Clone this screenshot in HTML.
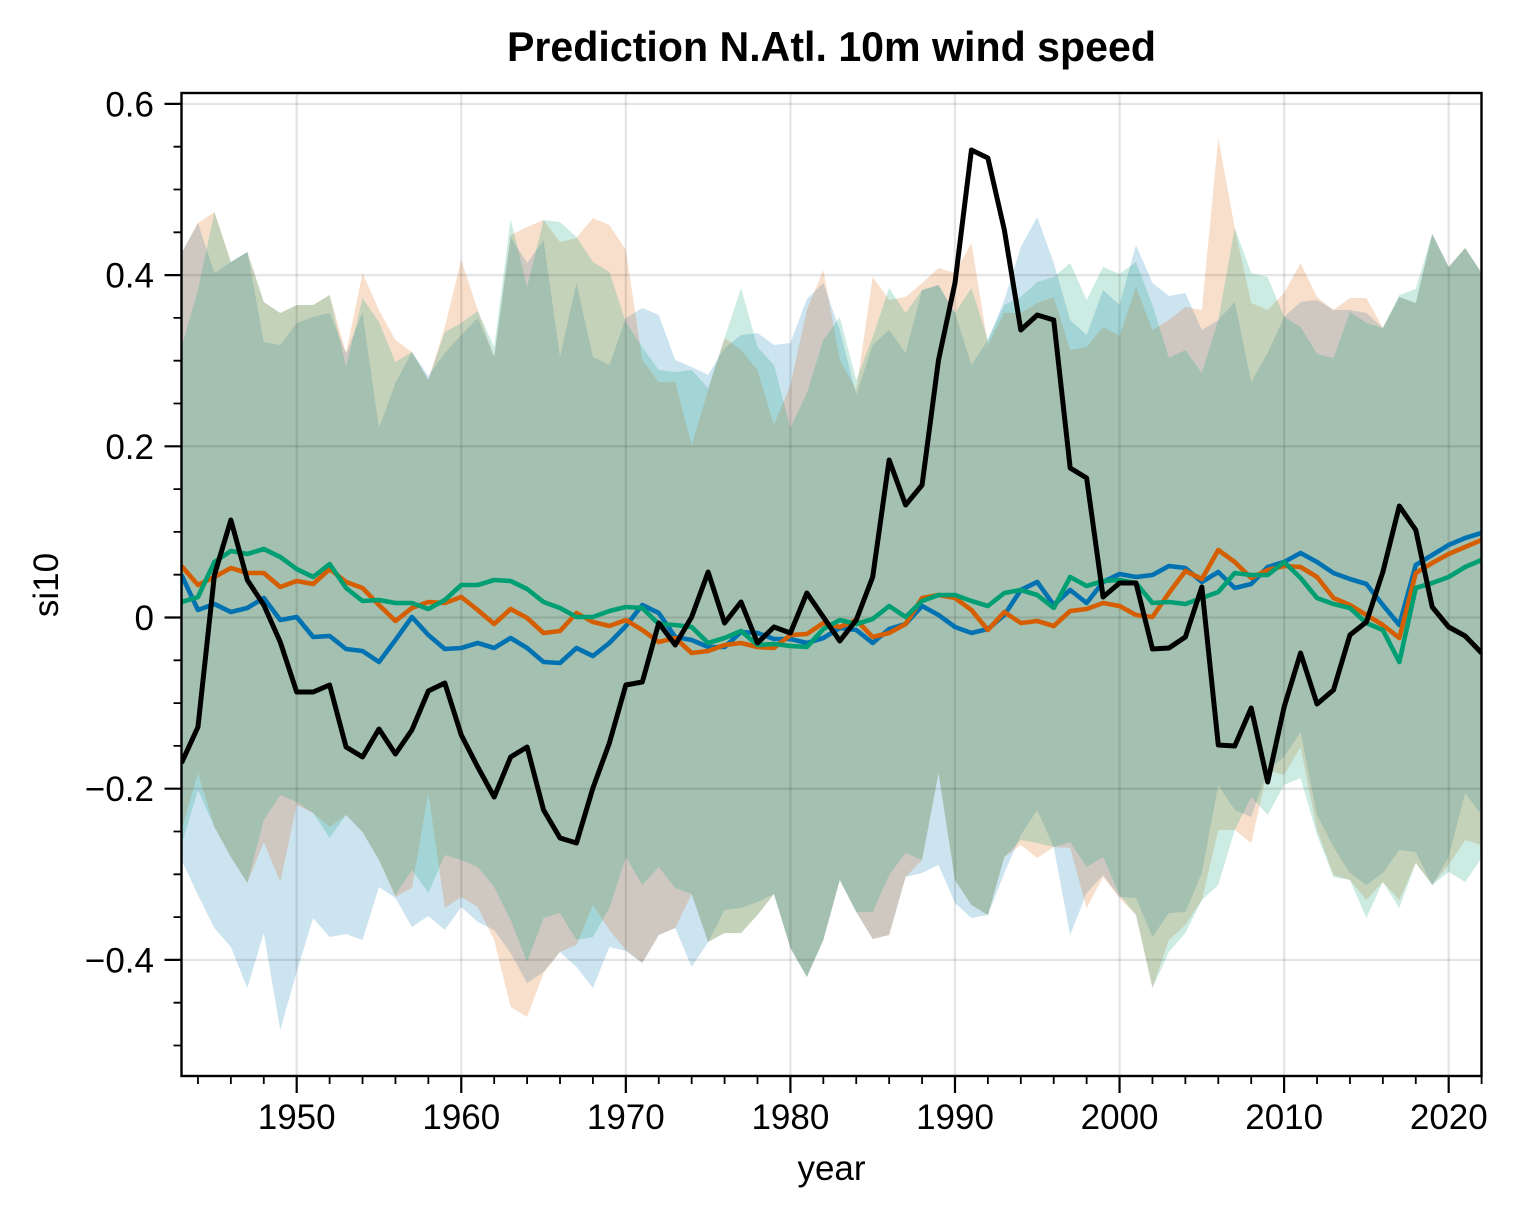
<!DOCTYPE html>
<html>
<head>
<meta charset="utf-8">
<style>
html,body{margin:0;padding:0;background:#fff;}
svg{display:block;}
text{font-family:"Liberation Sans",Arial,Helvetica,sans-serif;fill:#000;}
</style>
</head>
<body>
<svg width="1520" height="1218" viewBox="0 0 1520 1218" xmlns="http://www.w3.org/2000/svg">
<defs>
<clipPath id="ax"><rect x="181.5" y="93" width="1300" height="983"/></clipPath>
</defs>
<rect x="0" y="0" width="1520" height="1218" fill="#fff"/>

<g clip-path="url(#ax)">
<g transform="translate(181.5,0) scale(16.457,1)">
<!-- blue band -->
<polygon fill="#0072B2" fill-opacity="0.2" points="0,253 1,223 2,273 3,262 4,252 5,342 6,345 7,323 8,317 9,313 10,353 11,313 12,428 13,383 14,352 15,376 16,353 17,335 18,318 19,357 20,237 21,263 22,240 23,357 24,283 25,357 26,365 27,318 28,308 29,315 30,360 31,367 32,375 33,348 34,335 35,333 36,345 37,343 38,299 39,283 40,330 41,395 42,345 43,330 44,353 45,290 46,285 47,313 48,365 49,340 50,300 51,247 52,217 53,263 54,320 55,335 56,290 57,305 58,245 59,283 60,296 61,293 62,330 63,320 64,302 65,382 66,353 67,317 68,302 69,300 70,310 71,310 72,313 73,328 74,297 75,303 76,234 77,267 78,248 79,273 79,815 78,793 77,857 76,885 75,852 74,850 73,873 72,885 71,873 70,847 69,815 68,732 67,757 66,770 65,817 64,810 63,785 62,873 61,912 60,913 59,937 58,898 57,897 56,875 55,893 54,935 53,847 52,810 51,835 50,873 49,915 48,918 47,903 46,865 45,873 44,877 43,935 42,939 41,912 40,880 39,940 38,977 37,948 36,894 35,902 34,908 33,910 32,942 31,967 30,928 29,935 28,963 27,951 26,947 25,988 24,967 23,952 22,972 21,983 20,953 19,930 18,922 17,907 16,930 15,916 14,927 13,898 12,887 11,940 10,934 9,937 8,918 7,972 6,1030 5,933 4,988 3,947 2,928 1,895 0,860"/>
<!-- orange band -->
<polygon fill="#D55E00" fill-opacity="0.2" points="0,253 1,223 2,212 3,262 4,252 5,302 6,313 7,305 8,305 9,295 10,353 11,273 12,310 13,340 14,352 15,380 16,327 17,260 18,310 19,357 20,235 21,227 22,220 23,242 24,238 25,218 26,225 27,250 28,360 29,382 30,382 31,445 32,390 33,338 34,350 35,370 36,425 37,385 38,310 39,270 40,360 41,390 42,277 43,300 44,297 45,283 46,268 47,273 48,243 49,345 50,313 51,313 52,303 53,297 54,350 55,347 56,327 57,336 58,287 59,330 60,320 61,307 62,310 63,138 64,228 65,303 66,310 67,293 68,263 69,297 70,310 71,298 72,298 73,328 74,297 75,303 76,234 77,267 78,248 79,273 79,845 78,840 77,865 76,885 75,863 74,900 73,882 72,900 71,880 70,875 69,830 68,747 67,775 66,770 65,843 64,830 63,830 62,900 61,925 60,940 59,988 58,915 57,898 56,877 55,908 54,848 53,847 52,858 51,845 50,857 49,915 48,905 47,880 46,773 45,860 44,877 43,935 42,939 41,912 40,880 39,940 38,977 37,948 36,894 35,915 34,933 33,933 32,942 31,894 30,928 29,935 28,963 27,950 26,930 25,905 24,945 23,952 22,973 21,1017 20,1007 19,940 18,907 17,897 16,908 15,793 14,888 13,897 12,860 11,832 10,815 9,827 8,813 7,805 6,882 5,842 4,883 3,857 2,827 1,773 0,830"/>
<!-- green band -->
<polygon fill="#009E73" fill-opacity="0.2" points="0,347 1,290 2,212 3,262 4,252 5,302 6,313 7,305 8,305 9,295 10,367 11,298 12,322 13,362 14,352 15,380 16,332 17,323 18,311 19,347 20,219 21,287 22,220 23,222 24,237 25,262 26,272 27,322 28,347 29,370 30,372 31,370 32,388 33,338 34,288 35,347 36,365 37,428 38,393 39,340 40,317 41,380 42,337 43,288 44,313 45,290 46,285 47,313 48,288 49,340 50,305 51,297 52,282 53,277 54,263 55,300 56,267 57,274 58,262 59,305 60,358 61,350 62,373 63,320 64,228 65,273 66,277 67,317 68,327 69,354 70,358 71,312 72,323 73,328 74,295 75,289 76,234 77,267 78,248 79,273 79,858 78,882 77,872 76,885 75,863 74,908 73,882 72,918 71,880 70,877 69,835 68,778 67,785 66,815 65,797 64,830 63,885 62,900 61,933 60,952 59,988 58,915 57,895 56,857 55,867 54,842 53,847 52,843 51,840 50,857 49,915 48,905 47,880 46,773 45,860 44,853 43,875 42,912 41,912 40,880 39,940 38,977 37,948 36,894 35,915 34,933 33,933 32,942 31,894 30,888 29,867 28,885 27,857 26,908 25,937 24,940 23,913 22,918 21,962 20,920 19,887 18,867 17,860 16,855 15,893 14,870 13,895 12,860 11,832 10,815 9,838 8,813 7,802 6,795 5,820 4,883 3,857 2,827 1,790 0,845"/>

<!-- vertical grid -->
<path d="M7,93V1076 M17,93V1076 M27,93V1076 M37,93V1076 M47,93V1076 M57,93V1076 M67,93V1076 M77,93V1076" stroke="#000" stroke-opacity="0.1" stroke-width="2.3" vector-effect="non-scaling-stroke" fill="none"/>
</g>
<!-- horizontal grid -->
<path d="M181.5,103.9H1481.5 M181.5,275.1H1481.5 M181.5,446.3H1481.5 M181.5,617.5H1481.5 M181.5,788.7H1481.5 M181.5,959.9H1481.5" stroke="#000" stroke-opacity="0.1" stroke-width="2.3" fill="none"/>

<g transform="translate(181.5,0) scale(16.457,1)" fill="none" stroke-linejoin="round" stroke-linecap="butt">
<polyline stroke="#0072B2" stroke-width="4.6" vector-effect="non-scaling-stroke" points="0,575 1,610 2,604 3,612 4,608 5,598 6,620 7,617 8,637 9,636 10,649 11,651 12,662 13,640 14,617 15,635 16,649 17,648 18,643 19,648 20,638 21,648 22,662 23,663 24,648 25,656 26,643 27,626 28,605 29,613 30,637 31,640 32,647 33,647 34,632 35,633 36,639 37,639 38,643 39,638 40,628 41,630 42,643 43,629 44,624 45,606 46,615 47,627 48,633 49,629 50,615 51,590 52,582 53,605 54,590 55,603 56,582 57,574 58,577 59,575 60,566 61,568 62,582 63,572 64,588 65,584 66,567 67,562 68,553 69,562 70,573 71,579 72,584 73,605 74,625 75,565 76,555 77,545 78,538 79,533"/>
<polyline stroke="#D55E00" stroke-width="4.6" vector-effect="non-scaling-stroke" points="0,566 1,585 2,577 3,568 4,573 5,573 6,587 7,581 8,584 9,569 10,582 11,588 12,605 13,621 14,608 15,602 16,603 17,597 18,610 19,624 20,609 21,618 22,633 23,631 24,613 25,622 26,626 27,620 28,630 29,642 30,638 31,653 32,651 33,645 34,643 35,647 36,648 37,635 38,634 39,623 40,627 41,620 42,637 43,633 44,624 45,598 46,595 47,598 48,610 49,630 50,612 51,623 52,621 53,626 54,611 55,609 56,603 57,606 58,615 59,617 60,593 61,571 62,579 63,550 64,562 65,578 66,570 67,566 68,567 69,577 70,598 71,605 72,615 73,625 74,638 75,573 76,563 77,554 78,547 79,540"/>
<polyline stroke="#009E73" stroke-width="4.6" vector-effect="non-scaling-stroke" points="0,602 1,597 2,562 3,551 4,554 5,549 6,557 7,569 8,577 9,564 10,588 11,601 12,600 13,603 14,603 15,609 16,600 17,585 18,585 19,580 20,581 21,589 22,602 23,608 24,617 25,617 26,611 27,607 28,608 29,624 30,625 31,627 32,643 33,638 34,631 35,645 36,644 37,646 38,647 39,629 40,620 41,624 42,619 43,606 44,617 45,601 46,595 47,595 48,601 49,606 50,593 51,590 52,595 53,608 54,577 55,586 56,581 57,580 58,583 59,603 60,602 61,604 62,598 63,592 64,573 65,575 66,575 67,562 68,578 69,598 70,604 71,608 72,623 73,630 74,662 75,588 76,583 77,577 78,567 79,560"/>
<polyline stroke="#000" stroke-width="5" vector-effect="non-scaling-stroke" points="0,763 1,727 2,575 3,520 4,580 5,605 6,642 7,692 8,692 9,685 10,747 11,757 12,729 13,754 14,730 15,691 16,683 17,735 18,767 19,797 20,757 21,747 22,810 23,838 24,843 25,788 26,743 27,685 28,682 29,623 30,645 31,617 32,572 33,623 34,602 35,643 36,627 37,633 38,593 39,617 40,641 41,620 42,577 43,460 44,505 45,485 46,360 47,283 48,150 49,158 50,230 51,330 52,315 53,320 54,468 55,478 56,597 57,583 58,583 59,649 60,648 61,637 62,587 63,745 64,746 65,708 66,782 67,707 68,653 69,704 70,690 71,635 72,622 73,572 74,506 75,530 76,607 77,627 78,636 79,653"/>
</g>
</g>

<!-- spines -->
<rect x="181.5" y="93" width="1300" height="983" fill="none" stroke="#000" stroke-width="2.4"/>

<!-- x ticks -->
<g transform="translate(181.5,0) scale(16.457,1)" fill="none" stroke="#000">
<path stroke-width="2.2" vector-effect="non-scaling-stroke" d="M7,1076V1093 M17,1076V1093 M27,1076V1093 M37,1076V1093 M47,1076V1093 M57,1076V1093 M67,1076V1093 M77,1076V1093"/>
<path stroke-width="1.8" vector-effect="non-scaling-stroke" d="M1,1076V1084 M3,1076V1084 M5,1076V1084 M9,1076V1084 M11,1076V1084 M13,1076V1084 M15,1076V1084 M19,1076V1084 M21,1076V1084 M23,1076V1084 M25,1076V1084 M29,1076V1084 M31,1076V1084 M33,1076V1084 M35,1076V1084 M39,1076V1084 M41,1076V1084 M43,1076V1084 M45,1076V1084 M49,1076V1084 M51,1076V1084 M53,1076V1084 M55,1076V1084 M59,1076V1084 M61,1076V1084 M63,1076V1084 M65,1076V1084 M69,1076V1084 M71,1076V1084 M73,1076V1084 M75,1076V1084 M79,1076V1084"/>
</g>

<!-- y ticks -->
<path fill="none" stroke="#000" stroke-width="2.2" d="M164.5,103.9H181.5 M164.5,275.1H181.5 M164.5,446.3H181.5 M164.5,617.5H181.5 M164.5,788.7H181.5 M164.5,959.9H181.5"/>
<path fill="none" stroke="#000" stroke-width="1.8" d="M173.5,146.7H181.5 M173.5,189.5H181.5 M173.5,232.3H181.5 M173.5,317.9H181.5 M173.5,360.7H181.5 M173.5,403.5H181.5 M173.5,489.1H181.5 M173.5,531.9H181.5 M173.5,574.7H181.5 M173.5,660.3H181.5 M173.5,703.1H181.5 M173.5,745.9H181.5 M173.5,831.5H181.5 M173.5,874.3H181.5 M173.5,917.1H181.5 M173.5,1002.7H181.5 M173.5,1045.5H181.5"/>

<!-- y tick labels -->
<g font-size="35" text-anchor="end">
<text x="154" y="116.4">0.6</text>
<text x="154" y="287.6">0.4</text>
<text x="154" y="458.8">0.2</text>
<text x="154" y="630">0</text>
<text x="154" y="801.2">−0.2</text>
<text x="154" y="972.4">−0.4</text>
</g>

<!-- x tick labels -->
<g font-size="35" text-anchor="middle">
<text x="296.7" y="1129">1950</text>
<text x="461.3" y="1129">1960</text>
<text x="625.8" y="1129">1970</text>
<text x="790.4" y="1129">1980</text>
<text x="955.0" y="1129">1990</text>
<text x="1119.6" y="1129">2000</text>
<text x="1284.2" y="1129">2010</text>
<text x="1448.8" y="1129">2020</text>
</g>

<!-- axis labels -->
<text x="831.5" y="1180" font-size="35" text-anchor="middle">year</text>
<text transform="translate(58,585) rotate(-90)" font-size="35" text-anchor="middle">si10</text>

<!-- title -->
<text x="831.5" y="61" font-size="42" font-weight="bold" text-anchor="middle" textLength="649" lengthAdjust="spacingAndGlyphs">Prediction N.Atl. 10m wind speed</text>
</svg>
</body>
</html>
